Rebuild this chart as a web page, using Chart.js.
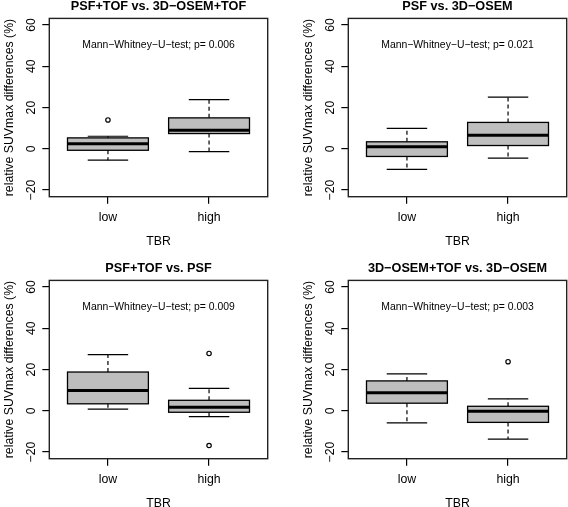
<!DOCTYPE html>
<html>
<head>
<meta charset="utf-8">
<script src="https://cdn.jsdelivr.net/npm/chart.js@4.4.1/dist/chart.umd.min.js"></script>
<style>
html, body { margin: 0; padding: 0; background: #fff; overflow: hidden; }
#wrap { position: relative; width: 568px; height: 507px; overflow: hidden; }
canvas { position: absolute; }
</style>
</head>
<body>
<div id="wrap">
  <canvas id="p0" width="299" height="262" style="left:0;top:0"></canvas>
  <canvas id="p1" width="299" height="262" style="left:299px;top:0"></canvas>
  <canvas id="p2" width="299" height="262" style="left:0;top:262px"></canvas>
  <canvas id="p3" width="299" height="262" style="left:299px;top:262px"></canvas>
</div>
<script>
// values (relative SUVmax differences, %)
var groups = ['low', 'high'];
var panelTitles = ['PSF+TOF vs. 3D\u2212OSEM+TOF', 'PSF vs. 3D\u2212OSEM', 'PSF+TOF vs. PSF', '3D\u2212OSEM+TOF vs. 3D\u2212OSEM'];
var pValues = ['0.006', '0.021', '0.009', '0.003'];
var yTicks = [-20, 0, 20, 40, 60];

// per panel: [low, high]
var whiskerLow  = [[-5.5, -1.4], [-10.0, -4.5], [0.8, -2.8], [-5.8, -13.7]];
var q1          = [[-0.7, 7.4], [-3.7, 1.6], [3.4, -0.7], [3.7, -5.6]];
var medians     = [[2.4, 9.0], [1.0, 6.6], [9.8, 1.7], [8.7, -0.2]];
var q3          = [[5.3, 15.0], [3.4, 12.8], [18.8, 5.1], [14.5, 2.2]];
var whiskerHigh = [[6.1, 23.8], [9.9, 25.1], [27.2, 10.9], [17.9, 5.8]];
var outliers    = [[{x: 1, y: 14.0}], [], [{x: 2, y: 27.8}, {x: 2, y: -16.8}], [{x: 2, y: 23.8}]];

var FONT = '"Liberation Sans", Arial, Helvetica, sans-serif';
var MINUS = '\u2212';

var boxPlugin = {
  id: 'boxes',
  beforeDatasetsDraw: function (chart) {
    var ctx = chart.ctx, x = chart.scales.x, y = chart.scales.y;
    var k = chart.options.plugins.boxes.panel;
    var half = 0.4, cap = 0.2;
    ctx.save();
    for (var i = 0; i < groups.length; i++) {
      var c = i + 1;
      var px = x.getPixelForValue(c);
      // dashed stems
      ctx.strokeStyle = '#000';
      ctx.lineWidth = 1.2;
      ctx.setLineDash([4, 3]);
      ctx.beginPath();
      ctx.moveTo(px, y.getPixelForValue(q3[k][i]));
      ctx.lineTo(px, y.getPixelForValue(whiskerHigh[k][i]));
      ctx.moveTo(px, y.getPixelForValue(q1[k][i]));
      ctx.lineTo(px, y.getPixelForValue(whiskerLow[k][i]));
      ctx.stroke();
      ctx.setLineDash([]);
      // caps
      ctx.beginPath();
      ctx.moveTo(x.getPixelForValue(c - cap), y.getPixelForValue(whiskerHigh[k][i]));
      ctx.lineTo(x.getPixelForValue(c + cap), y.getPixelForValue(whiskerHigh[k][i]));
      ctx.moveTo(x.getPixelForValue(c - cap), y.getPixelForValue(whiskerLow[k][i]));
      ctx.lineTo(x.getPixelForValue(c + cap), y.getPixelForValue(whiskerLow[k][i]));
      ctx.stroke();
      // box
      var x0 = x.getPixelForValue(c - half), x1 = x.getPixelForValue(c + half);
      var yTop = y.getPixelForValue(q3[k][i]), yBot = y.getPixelForValue(q1[k][i]);
      ctx.fillStyle = '#bebebe';
      ctx.fillRect(x0, yTop, x1 - x0, yBot - yTop);
      ctx.lineWidth = 1.3;
      ctx.strokeRect(x0, yTop, x1 - x0, yBot - yTop);
      // median
      ctx.lineWidth = 3;
      ctx.beginPath();
      ctx.moveTo(x0, y.getPixelForValue(medians[k][i]));
      ctx.lineTo(x1, y.getPixelForValue(medians[k][i]));
      ctx.stroke();
    }
    ctx.restore();
  },
  afterDraw: function (chart) {
    var ctx = chart.ctx, x = chart.scales.x, y = chart.scales.y, a = chart.chartArea;
    var k = chart.options.plugins.boxes.panel;
    ctx.save();
    // frame
    ctx.strokeStyle = '#222';
    ctx.lineWidth = 1.4;
    ctx.strokeRect(a.left, a.top, a.right - a.left, a.bottom - a.top);
    ctx.fillStyle = '#000';
    ctx.textAlign = 'center';
    ctx.textBaseline = 'middle';
    // panel title, centred over the plot region
    ctx.font = 'bold 12.7px ' + FONT;
    ctx.fillText(panelTitles[k], (a.left + a.right) / 2, a.top - 12.2);
    // rotated y tick labels
    ctx.font = '12.3px ' + FONT;
    yTicks.forEach(function (v) {
      ctx.save();
      ctx.translate(a.left - 18, y.getPixelForValue(v));
      ctx.rotate(-Math.PI / 2);
      ctx.fillText(String(v).replace('-', MINUS), 0, 0);
      ctx.restore();
    });
    // test annotation
    ctx.font = '10.4px ' + FONT;
    ctx.fillText('Mann' + MINUS + 'Whitney' + MINUS + 'U' + MINUS + 'test; p= ' + pValues[k],
      x.getPixelForValue(1.5), y.getPixelForValue(50));
    ctx.restore();
  }
};

function makePanel(k) {
  var ctx = document.getElementById('p' + k).getContext('2d');
  return new Chart(ctx, {
    type: 'scatter',
    data: {
      datasets: [{
        data: outliers[k],
        pointStyle: 'circle',
        pointRadius: 2.2,
        pointBorderWidth: 1.2,
        pointBorderColor: '#000',
        pointBackgroundColor: 'rgba(0,0,0,0)'
      }]
    },
    options: {
      responsive: false,
      animation: false,
      devicePixelRatio: 1,
      layout: { padding: { left: 0, right: 31.3, top: 18.4, bottom: 0 } },
      plugins: {
        legend: { display: false },
        tooltip: { enabled: false },
        title: { display: false },
        boxes: { panel: k }
      },
      scales: {
        x: {
          type: 'linear',
          min: 0.42,
          max: 2.58,
          afterBuildTicks: function (s) { s.ticks = [{ value: 1 }, { value: 2 }]; },
          afterFit: function (s) { s.height = 65.3; },
          ticks: {
            color: '#000',
            padding: 7,
            font: { family: FONT, size: 12.3 },
            callback: function (v, i) { return groups[i]; }
          },
          grid: { drawOnChartArea: false, drawTicks: true, tickLength: 7, color: '#000', lineWidth: 1.2 },
          border: { display: false },
          title: {
            display: true,
            text: 'TBR',
            color: '#000',
            font: { family: FONT, size: 12.3 },
            padding: { top: 0, bottom: 13 }
          }
        },
        y: {
          min: -23.2,
          max: 63.2,
          afterBuildTicks: function (s) { s.ticks = yTicks.map(function (v) { return { value: v }; }); },
          afterFit: function (s) { s.width = 49.3; },
          ticks: { display: false },
          grid: { drawOnChartArea: false, drawTicks: true, tickLength: 7, color: '#000', lineWidth: 1.2 },
          border: { display: false },
          title: {
            display: true,
            text: 'relative SUVmax differences (%)',
            color: '#000',
            font: { family: FONT, size: 12.3 },
            padding: { top: 2, bottom: 0 }
          }
        }
      }
    },
    plugins: [boxPlugin]
  });
}

for (var k = 0; k < 4; k++) makePanel(k);
</script>
</body>
</html>
